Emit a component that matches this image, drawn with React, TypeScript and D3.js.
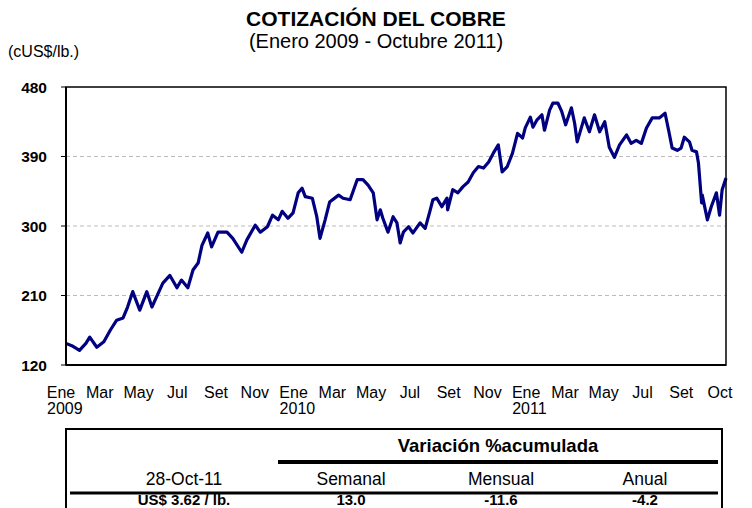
import React from "react";
import * as d3 from "d3";

const dates: string[] = [
  "2009-01-02","2009-01-11","2009-01-23","2009-02-02","2009-02-08","2009-02-19","2009-03-02","2009-03-12","2009-03-22","2009-04-01",
  "2009-04-08","2009-04-16","2009-04-27","2009-05-08","2009-05-16","2009-05-23","2009-06-02","2009-06-13","2009-06-24","2009-07-01",
  "2009-07-11","2009-07-19","2009-07-27","2009-08-02","2009-08-11","2009-08-17","2009-08-27","2009-09-10","2009-09-19","2009-10-03",
  "2009-10-11","2009-10-24","2009-11-01","2009-11-12","2009-11-20","2009-11-29","2009-12-05","2009-12-14","2009-12-22","2009-12-30",
  "2010-01-05","2010-01-10","2010-01-21","2010-01-28","2010-02-02","2010-02-10","2010-02-17","2010-03-03","2010-03-10","2010-03-21",
  "2010-04-01","2010-04-10","2010-04-18","2010-04-26","2010-05-02","2010-05-07","2010-05-11","2010-05-19","2010-05-27","2010-06-02",
  "2010-06-07","2010-06-12","2010-06-20","2010-06-27","2010-07-08","2010-07-16","2010-07-23","2010-07-28","2010-08-03","2010-08-11",
  "2010-08-19","2010-08-20","2010-08-28","2010-09-05","2010-09-13","2010-09-21","2010-09-29","2010-10-07","2010-10-15","2010-10-23",
  "2010-10-30","2010-11-07","2010-11-13","2010-11-21","2010-11-29","2010-12-07","2010-12-15","2010-12-19","2010-12-27","2010-12-31",
  "2011-01-06","2011-01-14","2011-01-18","2011-01-26","2011-01-31","2011-02-08","2011-02-14","2011-02-20","2011-03-01","2011-03-06",
  "2011-03-10","2011-03-21","2011-03-29","2011-04-06","2011-04-14","2011-04-22","2011-04-29","2011-05-07","2011-05-15","2011-05-26",
  "2011-06-02","2011-06-10","2011-06-18","2011-06-26","2011-07-05","2011-07-16","2011-07-25","2011-07-31","2011-08-05","2011-08-13",
  "2011-08-19","2011-08-24","2011-09-01","2011-09-05","2011-09-12","2011-09-15","2011-09-20","2011-09-21","2011-09-29","2011-10-05",
  "2011-10-13","2011-10-18","2011-10-22","2011-10-28"
];

const prices: number[] = [
  148,145,139,148,156,143,150,165,178,181,
  195,215,191,215,195,208,226,236,220,230,
  220,243,252,275,291,273,292,292,284,266,
  282,301,292,299,314,308,319,310,317,343,
  349,338,336,312,284,308,331,340,336,334,
  360,360,353,343,308,321,310,292,312,304,
  278,292,299,291,304,297,318,334,336,325,
  336,321,347,343,351,357,369,377,375,383,
  394,405,370,377,394,420,414,427,441,428,
  437,444,424,450,459,459,448,431,453,433,
  409,440,422,444,422,435,402,389,405,418,
  407,411,407,427,440,440,446,422,401,398,
  401,415,409,398,396,382,330,340,308,325,
  343,314,347,362
];

const yTicks: number[] = [120, 210, 300, 390, 480];
const xLabels: string[] = ["Ene","Mar","May","Jul","Set","Nov","Ene","Mar","May","Jul","Set","Nov","Ene","Mar","May","Jul","Set","Oct"];
const yearLabels: { idx: number; text: string }[] = [
  { idx: 0, text: "2009" },
  { idx: 6, text: "2010" },
  { idx: 12, text: "2011" },
];

const tableHeader = "Variación %acumulada";
const tableCols: string[] = ["28-Oct-11", "Semanal", "Mensual", "Anual"];
const tableVals: string[] = ["US$ 3.62 / lb.", "13.0", "-11.6", "-4.2"];

const FONT = "Arial, 'Liberation Sans', sans-serif";

export default function App() {
  const W = 752, H = 508;
  const left = 66, right = 726, top = 87, bottom = 365;
  const parse = d3.timeParse("%Y-%m-%d");
  const data = dates.map((d, i) => ({ date: parse(d) as Date, v: prices[i] }));

  const x = d3.scaleTime()
    .domain([parse(dates[0]) as Date, parse(dates[dates.length - 1]) as Date])
    .range([left, right]);
  const y = d3.scaleLinear().domain([120, 480]).range([bottom, top]);
  const xl = d3.scalePoint<number>().domain(xLabels.map((_, i) => i)).range([61, 720]);

  const line = d3.line<{ date: Date; v: number }>()
    .x((d) => x(d.date))
    .y((d) => y(d.v))
    .curve(d3.curveLinear);

  const colX = [184, 351, 501, 645];

  return (
    <svg width={W} height={H} style={{ position: "absolute", left: 0, top: 0, background: "#fff" }} fontFamily={FONT}>
      <rect x={0} y={0} width={W} height={H} fill="#fff" />
      <text x={376} y={26} textAnchor="middle" fontSize={21} fontWeight="bold">COTIZACIÓN DEL COBRE</text>
      <text x={376} y={48} textAnchor="middle" fontSize={20}>(Enero 2009 - Octubre 2011)</text>
      <text x={8} y={57} fontSize={16}>(cUS$/lb.)</text>

      {yTicks.slice(1, -1).map((t) => (
        <line key={t} x1={left} x2={right} y1={y(t)} y2={y(t)} stroke="#bbb" strokeWidth={1} strokeDasharray="4,3" />
      ))}
      {yTicks.map((t) => (
        <g key={"yt" + t}>
          <line x1={left - 5} x2={left} y1={y(t)} y2={y(t)} stroke="#000" strokeWidth={1} />
          <text x={47} y={y(t) + 5.5} textAnchor="end" fontSize={15.5} fontWeight="bold">{t}</text>
        </g>
      ))}

      <path d={line(data) || ""} fill="none" stroke="#000080" strokeWidth={3.2} strokeLinejoin="round" />

      <rect x={left} y={top} width={right - left} height={bottom - top} fill="none" stroke="#000" strokeWidth={1.5} />
      <line x1={left} x2={left} y1={top} y2={bottom} stroke="#000" strokeWidth={2} />
      <line x1={left} x2={right} y1={bottom} y2={bottom} stroke="#000" strokeWidth={2} />

      {xLabels.map((l, i) => (
        <text key={"xl" + i} x={xl(i)} y={398} textAnchor="middle" fontSize={16}>{l}</text>
      ))}
      {yearLabels.map((yl) => (
        <text key={yl.text} x={(xl(yl.idx) as number) - 14} y={414} fontSize={16}>{yl.text}</text>
      ))}

      <line x1={66} x2={722} y1={429} y2={429} stroke="#000" strokeWidth={2} />
      <line x1={66} x2={66} y1={428} y2={508} stroke="#000" strokeWidth={2} />
      <line x1={722} x2={722} y1={428} y2={508} stroke="#000" strokeWidth={2} />
      <text x={498} y={452} textAnchor="middle" fontSize={18.5} fontWeight="bold">{tableHeader}</text>
      <line x1={278} x2={718} y1={462} y2={462} stroke="#000" strokeWidth={4} />
      {tableCols.map((c, i) => (
        <text key={"c" + i} x={colX[i]} y={485} textAnchor="middle" fontSize={17.5}>{c}</text>
      ))}
      <line x1={70} x2={718} y1={493} y2={493} stroke="#000" strokeWidth={3} />
      {tableVals.map((c, i) => (
        <text key={"v" + i} x={colX[i]} y={505} textAnchor="middle" fontSize={15} fontWeight="bold">{c}</text>
      ))}
    </svg>
  );
}
